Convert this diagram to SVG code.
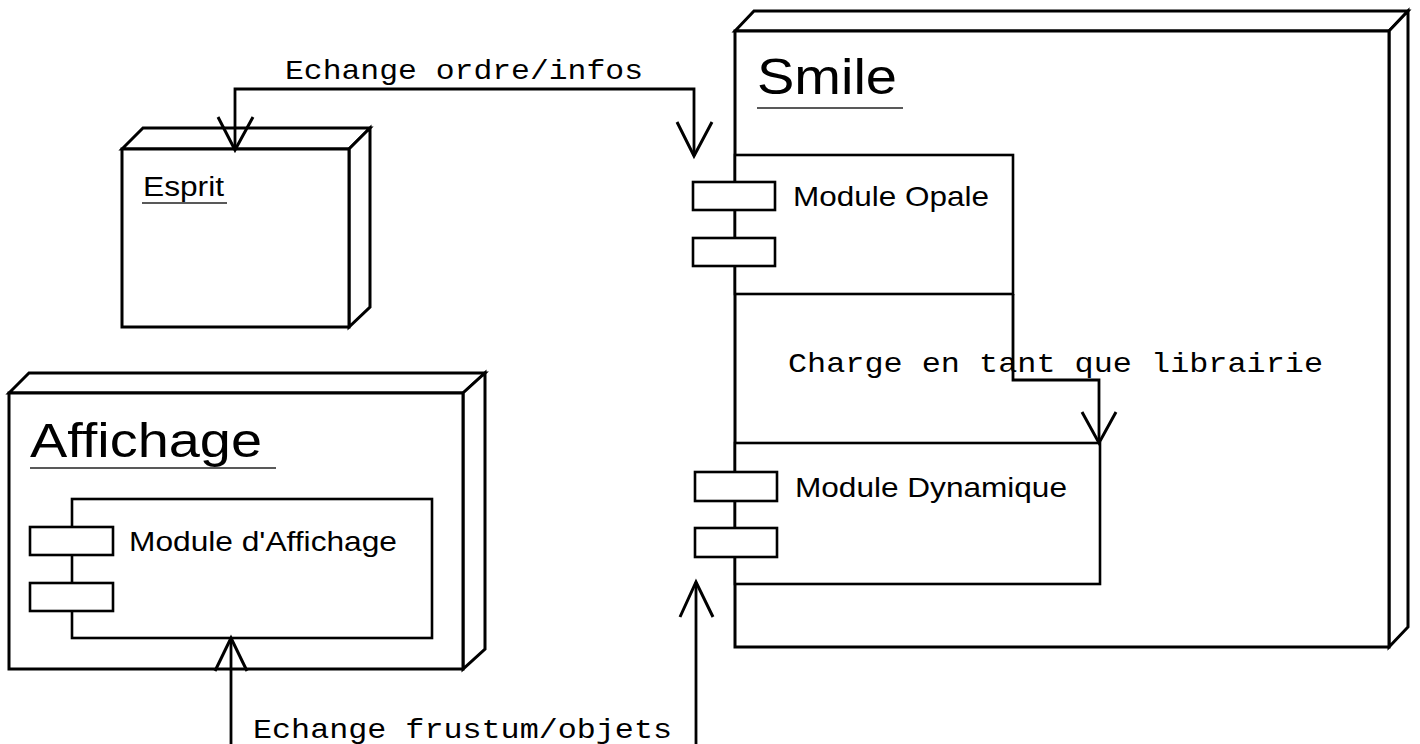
<svg xmlns="http://www.w3.org/2000/svg" width="1420" height="744" viewBox="0 0 1420 744">
  <style>
    .node { fill: #fff; stroke: #000; stroke-width: 3; stroke-linejoin: miter; }
    .comp { fill: #fff; stroke: #000; stroke-width: 2.6; }
    .port { fill: #fff; stroke: #000; stroke-width: 2.6; }
    .title { font-family: "Liberation Sans", Arial, sans-serif; fill: #000; }
    .ul { stroke: #222; stroke-width: 1.6; }
    .edge { fill: none; stroke: #000; stroke-width: 2.8; }
    .head { fill: none; stroke: #000; stroke-width: 3; stroke-linejoin: miter; }
    .lbl { font-family: "Liberation Mono", "Courier New", monospace; font-size: 28px; fill: #000; }
  </style>
  <rect width="1420" height="744" fill="#fff"/>

  <!-- Smile node with its two components -->
  <g id="smile">
    <polygon class="node" points="735,31 754,11 1408,11 1389,31"/>
    <polygon class="node" points="1389,31 1408,11 1408,627 1389,647"/>
    <rect class="node" x="735" y="31" width="654" height="616"/>
    <text class="title" x="757" y="94" font-size="50" textLength="140" lengthAdjust="spacingAndGlyphs">Smile</text>
    <line class="ul" x1="757" y1="108" x2="903" y2="108"/>
  </g>

  <g id="module-opale">
    <rect class="comp" x="735" y="155" width="278" height="139"/>
    <rect class="port" x="693" y="182" width="82" height="28"/>
    <rect class="port" x="693" y="238" width="82" height="28"/>
    <text class="title" x="793" y="206" font-size="28" textLength="196" lengthAdjust="spacingAndGlyphs">Module Opale</text>
  </g>

  <g id="module-dynamique">
    <rect class="comp" x="735" y="443" width="365" height="141"/>
    <rect class="port" x="695" y="472" width="82" height="29"/>
    <rect class="port" x="695" y="528" width="82" height="29"/>
    <text class="title" x="795" y="497" font-size="28" textLength="272" lengthAdjust="spacingAndGlyphs">Module Dynamique</text>
  </g>

  <!-- Esprit node -->
  <g id="esprit">
    <polygon class="node" points="122,149 143,128 370,128 349,149"/>
    <polygon class="node" points="349,149 370,128 370,307 349,327"/>
    <rect class="node" x="122" y="149" width="227" height="178"/>
    <text class="title" x="143" y="196" font-size="27" textLength="81" lengthAdjust="spacingAndGlyphs">Esprit</text>
    <line class="ul" x1="142" y1="203" x2="227" y2="203"/>
  </g>

  <!-- Affichage node with its component -->
  <g id="affichage">
    <polygon class="node" points="9,393 29,373 485,373 463,393"/>
    <polygon class="node" points="463,393 485,373 485,649 463,669"/>
    <rect class="node" x="9" y="393" width="454" height="276"/>
    <text class="title" x="30" y="457" font-size="49" textLength="232" lengthAdjust="spacingAndGlyphs">Affichage</text>
    <line class="ul" x1="30" y1="468" x2="276" y2="468"/>
  </g>

  <g id="module-affichage">
    <rect class="comp" x="72" y="499" width="360" height="139"/>
    <rect class="port" x="30" y="527" width="83" height="28"/>
    <rect class="port" x="30" y="583" width="83" height="28"/>
    <text class="title" x="129" y="551" font-size="28" textLength="268" lengthAdjust="spacingAndGlyphs">Module d'Affichage</text>
  </g>

  <!-- Connectors -->
  <g id="connectors">
    <!-- Esprit <-> Module Opale -->
    <path class="edge" d="M235,150 L235,89 L694,89 L694,156"/>
    <polyline class="head" points="218,117 235,150 253,117"/>
    <polyline class="head" points="677,122 694,156 712,122"/>
    <text class="lbl" x="285" y="79" textLength="358" lengthAdjust="spacingAndGlyphs">Echange ordre/infos</text>

    <!-- Module Opale -> Module Dynamique -->
    <path class="edge" d="M1013,294 L1013,380 L1099,380 L1099,443"/>
    <polyline class="head" points="1082,412 1099,443 1116,412"/>
    <text class="lbl" x="788" y="372" textLength="535" lengthAdjust="spacingAndGlyphs">Charge en tant que librairie</text>

    <!-- Module d'Affichage <-> Smile -->
    <path class="edge" d="M231,750 L231,638"/>
    <path class="edge" d="M696,750 L696,582"/>
    <polyline class="head" points="215,671 231,638 247,671"/>
    <polyline class="head" points="680,617 696,582 713,617"/>
    <text class="lbl" x="253" y="738" textLength="419" lengthAdjust="spacingAndGlyphs">Echange frustum/objets</text>
  </g>
</svg>
